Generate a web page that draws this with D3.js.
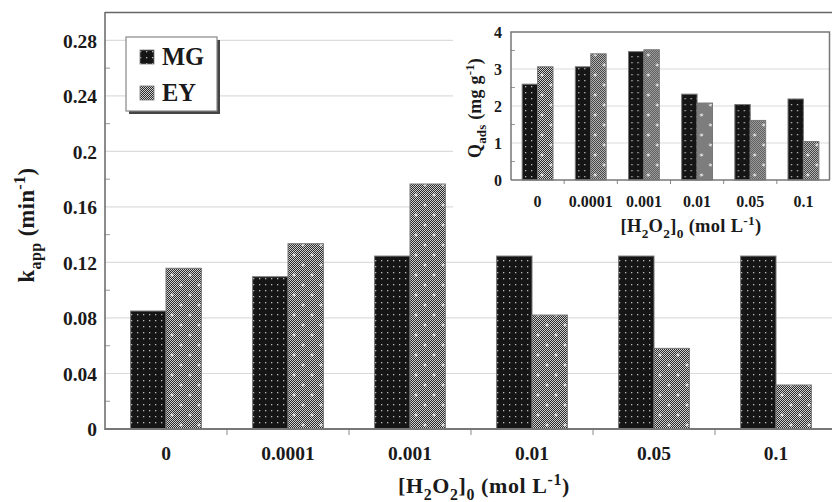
<!DOCTYPE html>
<html>
<head>
<meta charset="utf-8">
<script src="https://cdn.jsdelivr.net/npm/d3@7"></script>
<style>
  html, body { margin: 0; padding: 0; background: #fff; }
  svg { display: block; }
  text { font-family: "Liberation Serif", "Times New Roman", serif; font-weight: bold; fill: #1a1a1a; }
</style>
</head>
<body>
<div id="chart"></div>
<script>
// --- DATA ---
const categories = ["0", "0.0001", "0.001", "0.01", "0.05", "0.1"];
const series = ["MG", "EY"];
const kappMG = [0.085, 0.1097, 0.1246, 0.1246, 0.1246, 0.1246];
const kappEY = [0.1158, 0.1335, 0.1765, 0.0821, 0.0581, 0.0317];
const qadsMG = [2.59, 3.06, 3.47, 2.32, 2.04, 2.19];
const qadsEY = [3.06, 3.41, 3.52, 2.08, 1.61, 1.04];
const kTicks = [0, 0.04, 0.08, 0.12, 0.16, 0.2, 0.24, 0.28];
const kTickLabels = ["0", "0.04", "0.08", "0.12", "0.16", "0.2", "0.24", "0.28"];
const kMinor = [0.02, 0.06, 0.1, 0.14, 0.18, 0.22, 0.26];
const qTicks = [0, 1, 2, 3, 4];
const qMinor = [0.5, 1.5, 2.5, 3.5];

// --- SETUP ---
const width = 832, height = 502;
const svg = d3.select("#chart").append("svg")
    .attr("width", width).attr("height", height);

const defs = svg.append("defs");

// checker base for EY
const chk = defs.append("pattern").attr("id", "chk")
    .attr("patternUnits", "userSpaceOnUse").attr("width", 2).attr("height", 2);
chk.append("rect").attr("width", 2).attr("height", 2).attr("fill", "#d0d0d0");
chk.append("rect").attr("width", 1).attr("height", 1).attr("fill", "#2a2a2a");
chk.append("rect").attr("x", 1).attr("y", 1).attr("width", 1).attr("height", 1).attr("fill", "#2a2a2a");

// EY: checker + white crosses
const ey = defs.append("pattern").attr("id", "patEY")
    .attr("patternUnits", "userSpaceOnUse").attr("width", 18).attr("height", 20);
ey.append("rect").attr("width", 18).attr("height", 20).attr("fill", "url(#chk)");
[[4, 5], [13, 15]].forEach(([cx, cy]) => {
    ey.append("rect").attr("x", cx - 1.5).attr("y", cy - 0.5).attr("width", 3).attr("height", 1).attr("fill", "#fff");
    ey.append("rect").attr("x", cx - 0.5).attr("y", cy - 1.5).attr("width", 1).attr("height", 3).attr("fill", "#fff");
});

// MG: black with small light dots
const mg = defs.append("pattern").attr("id", "patMG")
    .attr("patternUnits", "userSpaceOnUse").attr("width", 6).attr("height", 6);
mg.append("rect").attr("width", 6).attr("height", 6).attr("fill", "#151515");
mg.append("rect").attr("x", 2).attr("y", 2).attr("width", 1.3).attr("height", 1.3).attr("fill", "#bbb");

const fills = { MG: "url(#patMG)", EY: "url(#patEY)" };

// --- MAIN CHART ---
const x = d3.scaleBand().domain(categories).range([105, 837]);
const xs = d3.scaleBand().domain(series).range([x.bandwidth() * 0.21, x.bandwidth() * 0.79]);
const y = d3.scaleLinear().domain([0, 0.3]).range([429, 12.6]);

const main = svg.append("g");

// gridlines
main.append("g").selectAll("line").data(kTicks.filter(d => d > 0)).join("line")
    .attr("x1", 105).attr("x2", 837)
    .attr("y1", d => y(d)).attr("y2", d => y(d))
    .attr("stroke", "#dcdcdc").attr("stroke-width", 1.2);

// minor ticks inward
main.append("g").selectAll("line").data(kMinor).join("line")
    .attr("x1", 105).attr("x2", 110)
    .attr("y1", d => y(d)).attr("y2", d => y(d))
    .attr("stroke", "#999").attr("stroke-width", 1);

// bars
const mainRows = categories.map((c, i) => ({ cat: c, MG: kappMG[i], EY: kappEY[i] }));
main.append("g").selectAll("g").data(mainRows).join("g")
    .attr("transform", d => `translate(${x(d.cat)},0)`)
    .selectAll("rect").data(d => series.map(s => ({ s, v: d[s] }))).join("rect")
    .attr("x", d => xs(d.s)).attr("width", xs.bandwidth())
    .attr("y", d => y(d.v)).attr("height", d => y(0) - y(d.v))
    .attr("fill", d => fills[d.s])
    .attr("stroke", "#777").attr("stroke-width", 1);

// frame top
main.append("line").attr("x1", 105).attr("x2", 837).attr("y1", 12.5).attr("y2", 12.5)
    .attr("stroke", "#666").attr("stroke-width", 1.5);

// y axis
const yAxis = main.append("g").attr("transform", "translate(105,0)")
    .call(d3.axisLeft(y).tickValues(kTicks).tickSize(0).tickPadding(8)
        .tickFormat((d, i) => kTickLabels[i]));
yAxis.select(".domain").remove();
yAxis.selectAll("text").attr("font-size", 19.5).attr("dy", "0.35em")
    .style("font-family", "Liberation Serif").style("font-weight", "bold").attr("fill", "#1a1a1a");
main.append("line").attr("x1", 105).attr("x2", 105).attr("y1", 12).attr("y2", 430)
    .attr("stroke", "#666").attr("stroke-width", 1.5);

// x axis
const xAxis = main.append("g").attr("transform", `translate(0,${y(0)})`)
    .call(d3.axisBottom(x).tickSize(0).tickPadding(31));
xAxis.select(".domain").remove();
xAxis.selectAll("text").attr("font-size", 19.5).attr("dy", "0")
    .style("font-family", "Liberation Serif").style("font-weight", "bold").attr("fill", "#1a1a1a");
main.append("g").selectAll("line").data(categories.slice(1)).join("line")
    .attr("x1", d => x(d)).attr("x2", d => x(d))
    .attr("y1", y(0)).attr("y2", y(0) + 6)
    .attr("stroke", "#888").attr("stroke-width", 1);
main.append("line").attr("x1", 105).attr("x2", 837).attr("y1", y(0)).attr("y2", y(0))
    .attr("stroke", "#777").attr("stroke-width", 1.8);

// --- rich text helper ---
function rich(g, parts, size, spacing) {
    const t = g.append("text").attr("font-size", size).attr("text-anchor", "middle")
        .attr("letter-spacing", spacing || 0);
    let shift = 0;
    parts.forEach(p => {
        let target = p.sub ? size * 0.3 : p.sup ? -size * 0.38 : 0;
        t.append("tspan").text(p.t)
            .attr("font-size", p.sub || p.sup ? size * 0.72 : size)
            .attr("dy", target - shift);
        shift = target;
    });
    return t;
}

// axis titles
rich(main.append("g").attr("transform", "translate(484,493)"),
    [{ t: "[H" }, { t: "2", sub: 1 }, { t: "O" }, { t: "2", sub: 1 }, { t: "]" }, { t: "0", sub: 1 }, { t: " (mol L" }, { t: "-1", sup: 1 }, { t: ")" }], 22, 0.6);
rich(main.append("g").attr("transform", "translate(34,225) rotate(-90)"),
    [{ t: "k" }, { t: "app", sub: 1 }, { t: " (min" }, { t: "-1", sup: 1 }, { t: ")" }], 22.5, 0.4);

// legend
const lg = main.append("g").attr("transform", "translate(126,37)");
lg.append("rect").attr("x", 3).attr("y", 3).attr("width", 91).attr("height", 74).attr("fill", "#444");
lg.append("rect").attr("width", 91).attr("height", 74).attr("fill", "#fff")
    .attr("stroke", "#888").attr("stroke-width", 1.2);
series.forEach((s, i) => {
    lg.append("rect").attr("x", 14).attr("y", 13 + i * 36).attr("width", 14).attr("height", 14)
        .attr("fill", fills[s]).attr("stroke", "#777").attr("stroke-width", 0.8);
    lg.append("text").attr("x", 36).attr("y", 28 + i * 36).attr("font-size", 24.5).text(s);
});

// --- INSET ---
const inset = svg.append("g");
inset.append("rect").attr("x", 453).attr("y", 20).attr("width", 380).attr("height", 230).attr("fill", "#fff");

const xi = d3.scaleBand().domain(categories).range([511, 830]);
const xis = d3.scaleBand().domain(series).range([xi.bandwidth() * 0.21, xi.bandwidth() * 0.79]);
const yi = d3.scaleLinear().domain([0, 4]).range([180, 32]);

inset.append("g").selectAll("line").data(qTicks.slice(1, 4)).join("line")
    .attr("x1", 511).attr("x2", 830)
    .attr("y1", d => yi(d)).attr("y2", d => yi(d))
    .attr("stroke", "#dcdcdc").attr("stroke-width", 1.2);
inset.append("g").selectAll("line").data(qMinor).join("line")
    .attr("x1", 511).attr("x2", 515)
    .attr("y1", d => yi(d)).attr("y2", d => yi(d))
    .attr("stroke", "#999").attr("stroke-width", 1);

const insetRows = categories.map((c, i) => ({ cat: c, MG: qadsMG[i], EY: qadsEY[i] }));
inset.append("g").selectAll("g").data(insetRows).join("g")
    .attr("transform", d => `translate(${xi(d.cat)},0)`)
    .selectAll("rect").data(d => series.map(s => ({ s, v: d[s] }))).join("rect")
    .attr("x", d => xis(d.s)).attr("width", xis.bandwidth())
    .attr("y", d => yi(d.v)).attr("height", d => yi(0) - yi(d.v))
    .attr("fill", d => fills[d.s])
    .attr("stroke", "#777").attr("stroke-width", 1);

// inset frame
inset.append("path")
    .attr("d", `M511,180V32H829.5V180`)
    .attr("fill", "none").attr("stroke", "#777").attr("stroke-width", 1.5);

const yiAxis = inset.append("g").attr("transform", "translate(511,0)")
    .call(d3.axisLeft(yi).tickValues(qTicks).tickSize(0).tickPadding(9).tickFormat(d3.format("d")));
yiAxis.select(".domain").remove();
yiAxis.selectAll("text").attr("font-size", 16).attr("dy", "0.35em")
    .style("font-family", "Liberation Serif").style("font-weight", "bold").attr("fill", "#1a1a1a");

const xiAxis = inset.append("g").attr("transform", `translate(0,${yi(0)})`)
    .call(d3.axisBottom(xi).tickSize(0).tickPadding(27));
xiAxis.select(".domain").remove();
xiAxis.selectAll("text").attr("font-size", 16).attr("dy", "0")
    .style("font-family", "Liberation Serif").style("font-weight", "bold").attr("fill", "#1a1a1a");
inset.append("g").selectAll("line").data(categories.slice(1)).join("line")
    .attr("x1", d => xi(d)).attr("x2", d => xi(d))
    .attr("y1", yi(0)).attr("y2", yi(0) + 4)
    .attr("stroke", "#888").attr("stroke-width", 1);
inset.append("line").attr("x1", 511).attr("x2", 830).attr("y1", yi(0)).attr("y2", yi(0))
    .attr("stroke", "#777").attr("stroke-width", 1.5);

rich(inset.append("g").attr("transform", "translate(691,232)"),
    [{ t: "[H" }, { t: "2", sub: 1 }, { t: "O" }, { t: "2", sub: 1 }, { t: "]" }, { t: "0", sub: 1 }, { t: " (mol L" }, { t: "-1", sup: 1 }, { t: ")" }], 18.5, 0.3);
rich(inset.append("g").attr("transform", "translate(481,108) rotate(-90)"),
    [{ t: "Q" }, { t: "ads", sub: 1 }, { t: " (mg g" }, { t: "-1", sup: 1 }, { t: ")" }], 18, 0.2);
</script>
</body>
</html>
